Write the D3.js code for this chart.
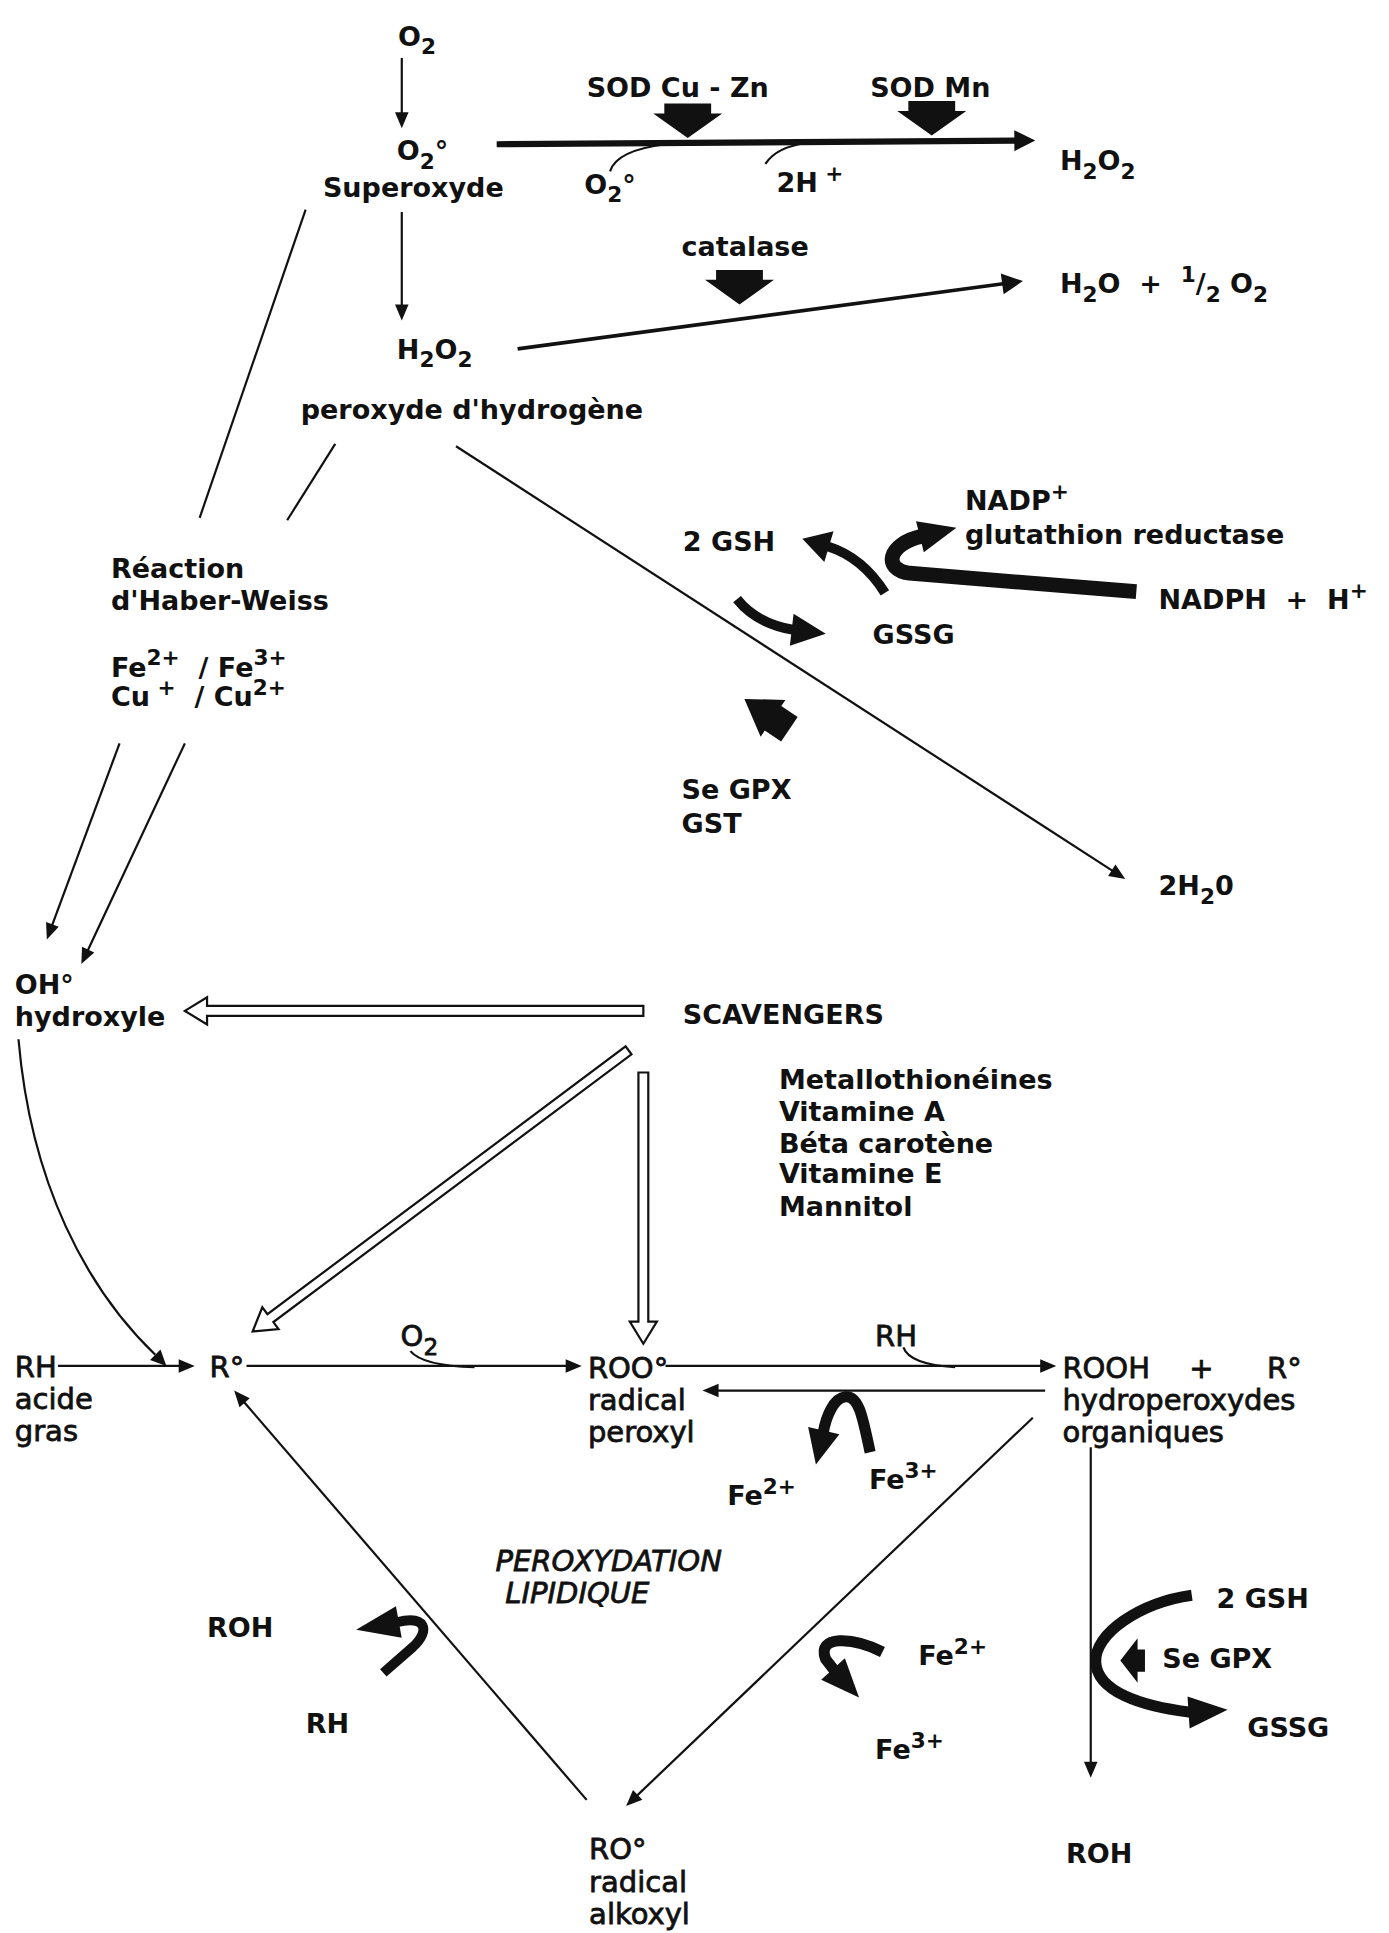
<!DOCTYPE html>
<html>
<head>
<meta charset="utf-8">
<script src="https://cdn.jsdelivr.net/npm/d3@7"></script>
<style>
  body { margin: 0; background: #fff; }
  text.b { font-family: "DejaVu Sans", sans-serif; font-weight: bold; font-size: 27px; fill: #111; }
  text.m { font-family: "DejaVu Sans", sans-serif; font-size: 29px; fill: #111; stroke: #111; stroke-width: 0.8px; }
  text.i { font-family: "DejaVu Sans", sans-serif; font-style: italic; font-size: 29px; fill: #111; stroke: #111; stroke-width: 0.8px; }
</style>
</head>
<body>
<script>
var W = 1389, H = 1933

// diagram is laid out in reference units (1127 x 1568), scaled to the page
var x = d3.scaleLinear().domain([0, 1127]).range([0, W])
var y = d3.scaleLinear().domain([0, 1568]).range([0, H])
var u = W / 1127

// ---- labels: [text, x, baseline]; _ = subscript, ^ = superscript
var boldLabels = [
  ['O_2', 323, 37], ['O_2°', 322, 130], ['Superoxyde', 262, 160],
  ['SOD Cu - Zn', 476, 79], ['SOD Mn', 706, 79],
  ['O_2°', 474, 157], ['2H^{ +}', 630, 156], ['H_2O_2', 860, 138],
  ['catalase', 553, 208], ['H_2O  +  ^1/_2 O_2', 860, 238],
  ['H_2O_2', 322, 291], ["peroxyde d'hydrogène", 244, 340],
  ['NADP^+', 783, 414], ['glutathion reductase', 783, 441],
  ['2 GSH', 554, 447], ['NADPH  +  H^+', 940, 494], ['GSSG', 708, 522],
  ['Se GPX', 553, 648], ['GST', 553, 676], ['2H_20', 940, 726],
  ['Réaction', 90, 469], ["d'Haber-Weiss", 90, 495],
  ['Fe^{2+}  / Fe^{3+}', 90, 549], ['Cu^{ +}  / Cu^{2+}', 90, 573],
  ['OH°', 12, 806], ['hydroxyle', 12, 832], ['SCAVENGERS', 554, 831],
  ['Fe^{2+}', 590, 1221], ['Fe^{3+}', 705, 1208],
  ['ROH', 168, 1328], ['RH', 248, 1406],
  ['Fe^{2+}', 745, 1351], ['Fe^{3+}', 710, 1427],
  ['2 GSH', 987, 1304], ['Se GPX', 943, 1353], ['GSSG', 1012, 1409],
  ['ROH', 865, 1511]
]
var scavengers = ['Metallothionéines', 'Vitamine A', 'Béta carotène', 'Vitamine E', 'Mannitol']
var scavengerRows = [883, 909, 935, 960, 986]

var mediumLabels = [
  ['RH', 12, 1117], ['acide', 12, 1143], ['gras', 12, 1169],
  ['R°', 170, 1117], ['O_2', 325, 1092],
  ['ROO°', 477, 1118], ['radical', 477, 1144], ['peroxyl', 477, 1170],
  ['RH', 710, 1092],
  ['ROOH', 862, 1118], ['+', 965, 1118], ['R°', 1028, 1118],
  ['hydroperoxydes', 862, 1144], ['organiques', 862, 1170],
  ['RO°', 478, 1508], ['radical', 478, 1535], ['alkoxyl', 478, 1561]
]
var italicLabels = [['PEROXYDATION', 402, 1274], ['LIPIDIQUE', 410, 1300]]

// ---- links
var thinArrows = [            // x1, y1, x2, y2
  [326, 47, 326, 104], [326, 172, 326, 260], [370, 362, 913, 713],
  [97, 603, 38, 762], [150, 603, 66, 782],
  [47, 1108, 158, 1108], [200, 1108, 472, 1108], [540, 1108, 857, 1108],
  [848, 1128, 570, 1128], [838, 1150, 508, 1465], [476, 1460, 190, 1128],
  [885, 1174, 885, 1442]
]
var plainLines = [[248, 170, 162, 420], [272, 360, 233, 422]]
var heavyArrows = [[403, 117, 840, 114, 5], [420, 283, 830, 228, 3]]
var hooks = [
  [['M', 495, 139], ['Q', 500, 122, 540, 117]],
  [['M', 621, 133], ['Q', 630, 119, 655, 116]],
  [['M', 333, 1096], ['Q', 343, 1108, 385, 1109]],
  [['M', 733, 1093], ['Q', 738, 1107, 775, 1109]]
]
var curvedArrows = [
  { d: [['M', 15, 843], ['C', 25, 960, 70, 1045, 126, 1099]], tip: [135, 1108], w: 2.2 }
]
var hollowArrows = [[522, 820, 150, 820], [510, 852, 205, 1080], [522, 870, 522, 1090]]
var blockArrows = [           // tip, direction, head len, head width, stem width, stem len
  { tip: [558, 112], dir: [0, 1], hl: 20, hw: 56, sw: 38, sl: 8 },
  { tip: [756, 110], dir: [0, 1], hl: 20, hw: 56, sw: 38, sl: 8 },
  { tip: [600, 247], dir: [0, 1], hl: 20, hw: 56, sw: 38, sl: 8 },
  { tip: [604, 567], dir: [-46, -31], hl: 28, hw: 36, sw: 24, sl: 16 },
  { tip: [909, 1347], dir: [-1, 0], hl: 14, hw: 36, sw: 18, sl: 6 }
]
var fatCurves = [
  { d: [['M', 718, 481], ['Q', 700, 452, 671, 443]], tip: [651, 437], w: 8 },
  { d: [['M', 598, 486], ['Q', 614, 506, 644, 511]], tip: [670, 514], w: 8 },
  { d: [['M', 922, 480], ['L', 738, 465], ['C', 716, 462, 720, 441, 748, 435]], tip: [776, 428], w: 12 },
  { d: [['M', 706, 1178], ['C', 700, 1150, 697, 1132, 686, 1133], ['C', 676, 1134, 670, 1150, 668, 1162]], tip: [662, 1188], w: 9 },
  { d: [['M', 716, 1340], ['C', 692, 1328, 662, 1326, 670, 1346], ['L', 677, 1355]], tip: [697, 1377], w: 9 },
  { d: [['M', 311, 1357], ['L', 335, 1336], ['C', 350, 1322, 345, 1310, 322, 1316]], tip: [289, 1322], w: 8 },
  { d: [['M', 967, 1294], ['C', 925, 1300, 888, 1325, 889, 1348], ['C', 890, 1372, 925, 1384, 966, 1389]], tip: [996, 1387], w: 9 }
]

var svg = d3.select('body')
  .append('svg')
  .attr('width', W)
  .attr('height', H)
  .style('display', 'block')

svg.append('rect').attr('width', W).attr('height', H).attr('fill', '#fff')

function pt(p) { return [x(p[0]), y(p[1])] }

function buildPath(cmds) {
  var p = d3.path()
  cmds.forEach(function(c) {
    if (c[0] === 'M') p.moveTo(x(c[1]), y(c[2]))
    else if (c[0] === 'L') p.lineTo(x(c[1]), y(c[2]))
    else if (c[0] === 'Q') p.quadraticCurveTo(x(c[1]), y(c[2]), x(c[3]), y(c[4]))
    else if (c[0] === 'C') p.bezierCurveTo(x(c[1]), y(c[2]), x(c[3]), y(c[4]), x(c[5]), y(c[6]))
  })
  return p.toString()
}

function unit(a, b) {
  var dx = b[0] - a[0], dy = b[1] - a[1], l = Math.hypot(dx, dy)
  return [dx / l, dy / l]
}

// triangle from tip back to base point (pixel coords), half width hw
function head(tip, base, hw) {
  var d = unit(base, tip), n = [-d[1], d[0]]
  return [tip, [base[0] + n[0] * hw, base[1] + n[1] * hw], [base[0] - n[0] * hw, base[1] - n[1] * hw]]
}

var ink = svg.append('g').attr('fill', 'none').attr('stroke', '#111').attr('stroke-linecap', 'butt')
var heads = svg.append('g').attr('fill', '#111')

plainLines.forEach(function(l) {
  ink.append('line').attr('x1', x(l[0])).attr('y1', y(l[1])).attr('x2', x(l[2])).attr('y2', y(l[3]))
    .attr('stroke-width', 2.2)
})

function straightArrow(l, sw, hl, hw) {
  var a = pt([l[0], l[1]]), t = pt([l[2], l[3]]), d = unit(a, t)
  var b = [t[0] - d[0] * hl * u, t[1] - d[1] * hl * u]
  ink.append('line').attr('x1', a[0]).attr('y1', a[1]).attr('x2', b[0] + d[0]).attr('y2', b[1] + d[1])
    .attr('stroke-width', sw)
  heads.append('polygon').attr('points', head(t, b, hw * u / 2).join(' '))
}

thinArrows.forEach(function(l) { straightArrow(l, 2.2, 13, 11) })
heavyArrows.forEach(function(l) { straightArrow(l, l[4] * u, 17, 17) })

hooks.forEach(function(h) {
  ink.append('path').attr('d', buildPath(h)).attr('stroke-width', 2.2)
})

curvedArrows.forEach(function(c) {
  ink.append('path').attr('d', buildPath(c.d)).attr('stroke-width', c.w)
  var last = c.d[c.d.length - 1]
  var end = pt([last[last.length - 2], last[last.length - 1]])
  heads.append('polygon').attr('points', head(pt(c.tip), end, 6 * u).join(' '))
})

fatCurves.forEach(function(c) {
  ink.append('path').attr('d', buildPath(c.d)).attr('stroke-width', c.w * u)
  var last = c.d[c.d.length - 1]
  var end = pt([last[last.length - 2], last[last.length - 1]])
  var t = pt(c.tip), d = unit(end, t)
  var base = [end[0] - d[0] * 2, end[1] - d[1] * 2]
  heads.append('polygon').attr('points', head(t, base, 13 * u).join(' '))
})

hollowArrows.forEach(function(h) {
  var a = pt([h[0], h[1]]), t = pt([h[2], h[3]]), d = unit(a, t), n = [-d[1], d[0]]
  var sw = 4 * u, hw = 11 * u, hl = 18 * u
  var b = [t[0] - d[0] * hl, t[1] - d[1] * hl]
  function off(p, s) { return [p[0] + n[0] * s, p[1] + n[1] * s] }
  var pts = [t, off(b, hw), off(b, sw), off(a, sw), off(a, -sw), off(b, -sw), off(b, -hw)]
  svg.append('polygon').attr('points', pts.join(' '))
    .attr('fill', '#fff').attr('stroke', '#111').attr('stroke-width', 2.2).attr('stroke-linejoin', 'miter')
})

blockArrows.forEach(function(a) {
  var t = pt(a.tip), l = Math.hypot(a.dir[0], a.dir[1]), d = [a.dir[0] / l, a.dir[1] / l], n = [-d[1], d[0]]
  function at(back, side) { return [t[0] - d[0] * back * u + n[0] * side * u, t[1] - d[1] * back * u + n[1] * side * u] }
  var pts = [at(0, 0), at(a.hl, a.hw / 2), at(a.hl, a.sw / 2), at(a.hl + a.sl, a.sw / 2),
    at(a.hl + a.sl, -a.sw / 2), at(a.hl, -a.sw / 2), at(a.hl, -a.hw / 2)]
  heads.append('polygon').attr('points', pts.join(' '))
})

// ---- text with sub/superscripts
function rich(el, str, fs) {
  var re = /(_\{[^}]*\}|_.|\^\{[^}]*\}|\^.|[^_^]+)/g, m, shift = 0
  while ((m = re.exec(str))) {
    var t = m[0], kind = 0
    if (t[0] === '_') { kind = 1; t = t.slice(1) }
    else if (t[0] === '^') { kind = -1; t = t.slice(1) }
    if (t[0] === '{') t = t.slice(1, -1)
    var target = kind > 0 ? fs * 0.32 : kind < 0 ? -fs * 0.42 : 0
    el.append('tspan').attr('dy', target - shift).attr('font-size', kind ? fs * 0.8 : fs)
      .style('white-space', 'pre').text(t)
    shift = target
  }
}

function labels(data, cls, fs) {
  svg.selectAll('text.' + cls + 'x')
    .data(data)
    .join('text')
    .attr('class', cls)
    .attr('x', function(d) { return x(d[1]) })
    .attr('y', function(d) { return y(d[2]) })
    .attr('xml:space', 'preserve')
    .each(function(d) { rich(d3.select(this), d[0], fs) })
}

labels(boldLabels, 'b', 27)
labels(scavengers.map(function(s, i) { return [s, 632, scavengerRows[i]] }), 'b', 27)
labels(mediumLabels, 'm', 29)
labels(italicLabels, 'i', 29)
</script>
</body>
</html>
